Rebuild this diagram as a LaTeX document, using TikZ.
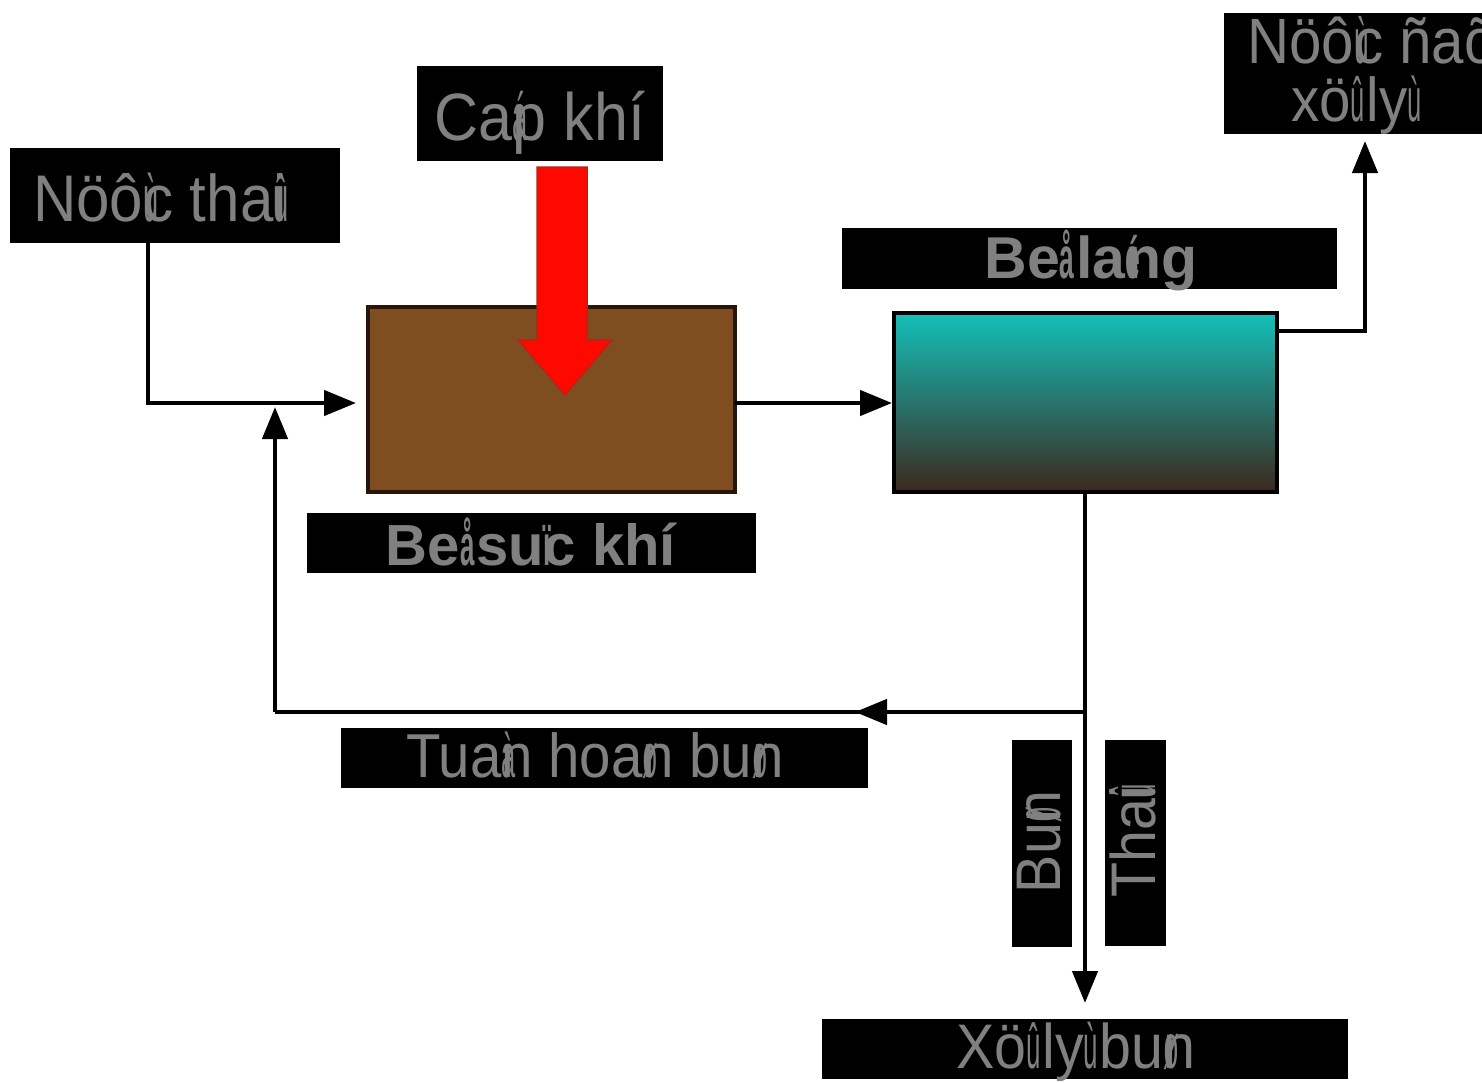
\documentclass[tikz,border=0pt]{standalone}
\usepackage{graphicx}
\usepackage{fontspec}
\setmainfont{Liberation Sans}
\newfontfamily\condf[FakeStretch=0.91]{Liberation Sans}
\usetikzlibrary{arrows.meta,calc}

\definecolor{labelgray}{RGB}{128,128,128}
\definecolor{aerbrown}{RGB}{126,78,32}
\definecolor{aeredge}{RGB}{40,22,10}
\definecolor{settop}{RGB}{20,192,186}
\definecolor{setmid}{RGB}{30,128,118}
\definecolor{setbot}{RGB}{60,40,30}
\definecolor{airred}{RGB}{255,8,0}
\definecolor{airedge}{RGB}{185,35,20}

% tone marks of the legacy encoding take no width and sit, squeezed, on the next letter
\newcommand\tone[1]{\rlap{\scalebox{0.45}[1]{#1}}}
\newcommand\reg[1]{\condf\fontsize{#1}{#1}\selectfont}
\newcommand\bld[1]{\bfseries\fontsize{#1}{#1}\selectfont}

\begin{document}
\begin{tikzpicture}[x=1pt,y=-1pt,
  tag/.style={fill=black,draw=none,inner sep=0pt,outer sep=0pt,anchor=north west},
  lbl/.style={text=labelgray,inner sep=0pt,anchor=base},
  flow/.style={line width=4.5pt,draw=black},
  tip/.style={-{Triangle[length=32pt,width=25pt]}},
  tank/.style={line width=4.5pt,inner sep=0pt,outer sep=0pt,anchor=north west}]

\useasboundingbox[fill=white] (0,0) rectangle (1482,1082);

% ---- label plates ----
\node[tag,minimum width=330pt,minimum height=95pt]  (bIn)   at (10,148)   {};
\node[tag,minimum width=246pt,minimum height=95pt]  (bAir)  at (417,66)   {};
\node[tag,minimum width=270pt,minimum height=121pt] (bOut)  at (1224,13)  {};
\node[tag,minimum width=495pt,minimum height=61pt]  (bSet)  at (842,228)  {};
\node[tag,minimum width=449pt,minimum height=60pt]  (bAer)  at (307,513)  {};
\node[tag,minimum width=527pt,minimum height=60pt]  (bRec)  at (341,728)  {};
\node[tag,minimum width=60pt,minimum height=207pt]  (bSl1)  at (1012,740) {};
\node[tag,minimum width=61pt,minimum height=206pt]  (bSl2)  at (1105,740) {};
\node[tag,minimum width=526pt,minimum height=60pt]  (bProc) at (822,1019) {};

% ---- basins ----
\node[tank,draw=aeredge,fill=aerbrown,minimum width=367pt,minimum height=185pt] (aer) at (368,307) {};
\node[tank,draw=black,top color=settop,middle color=setmid,bottom color=setbot,
      minimum width=383pt,minimum height=179pt] (sett) at (894,313) {};

% ---- air supply arrow ----
\filldraw[fill=airred,draw=airedge,line width=1.5pt,line join=miter]
  (537,167) -- (587,167) -- (587,340) -- (612,340) -- (565,395)
  -- (518,340) -- (537,340) -- cycle;

% ---- texts ----
\node[lbl,font=\reg{66}] (tIn) at (160,221) {Nöô\tone{ù}c tha\tone{û}i};
\node[lbl,font=\reg{67}] (tAir) at (540,140) {Ca\tone{á}p khí};
\node[lbl,font=\reg{64},anchor=base west] (tOut1) at (1247,63) {Nöô\tone{ù}c ñaõ};
\node[lbl,font=\reg{62},anchor=base west] (tOut2) at (1291,121) {xö\tone{û} ly\tone{ù}};
\node[lbl,font=\bld{59}] (tSet) at (1091,278) {Be\tone{å} la\tone{é}ng};
\node[lbl,font=\bld{58}] (tAer) at (531,565) {Be\tone{å} su\tone{ï}c khí};
\node[lbl,font=\reg{62}] (tRec) at (595,777) {Tua\tone{à}n hoa\tone{ø}n bu\tone{ø}n};
\node[lbl,font=\reg{63},rotate=90] (tSl1) at (1060,842) {Bu\tone{ø}n};
\node[lbl,font=\reg{63},rotate=90] (tSl2) at (1155,842) {Tha\tone{û}i};
\node[lbl,font=\reg{63}] (tProc) at (1076,1068) {Xö\tone{û} ly\tone{ù} bu\tone{ø}n};

% ---- routing points ----
\coordinate (jIn)    at (148,403);
\coordinate (jRec)   at (275,403);
\coordinate (split)  at (1085,712);
\coordinate (recTurn) at (275,712);
\coordinate (outTurn) at (1365,331);

% ---- flow lines ----
\draw[flow,tip,shorten >=12pt] (bIn.south -| jIn) -- (jIn) -- (jIn -| aer.west);
\draw[flow,tip,shorten >=2pt] (aer.east |- jIn) -- (jIn -| sett.west);
\draw[flow,tip,shorten >=7pt] (sett.east |- outTurn) -- (outTurn) -- (outTurn |- bOut.south);
\draw[flow,tip,shorten >=16pt] (sett.south -| split) -- (split |- bProc.north);
\draw[flow] (split) -- (recTurn);
\draw[flow,tip,shorten >=4pt] (recTurn) -- (jRec);
\draw[flow,tip] (split) -- (855,712);

\end{tikzpicture}
\end{document}
